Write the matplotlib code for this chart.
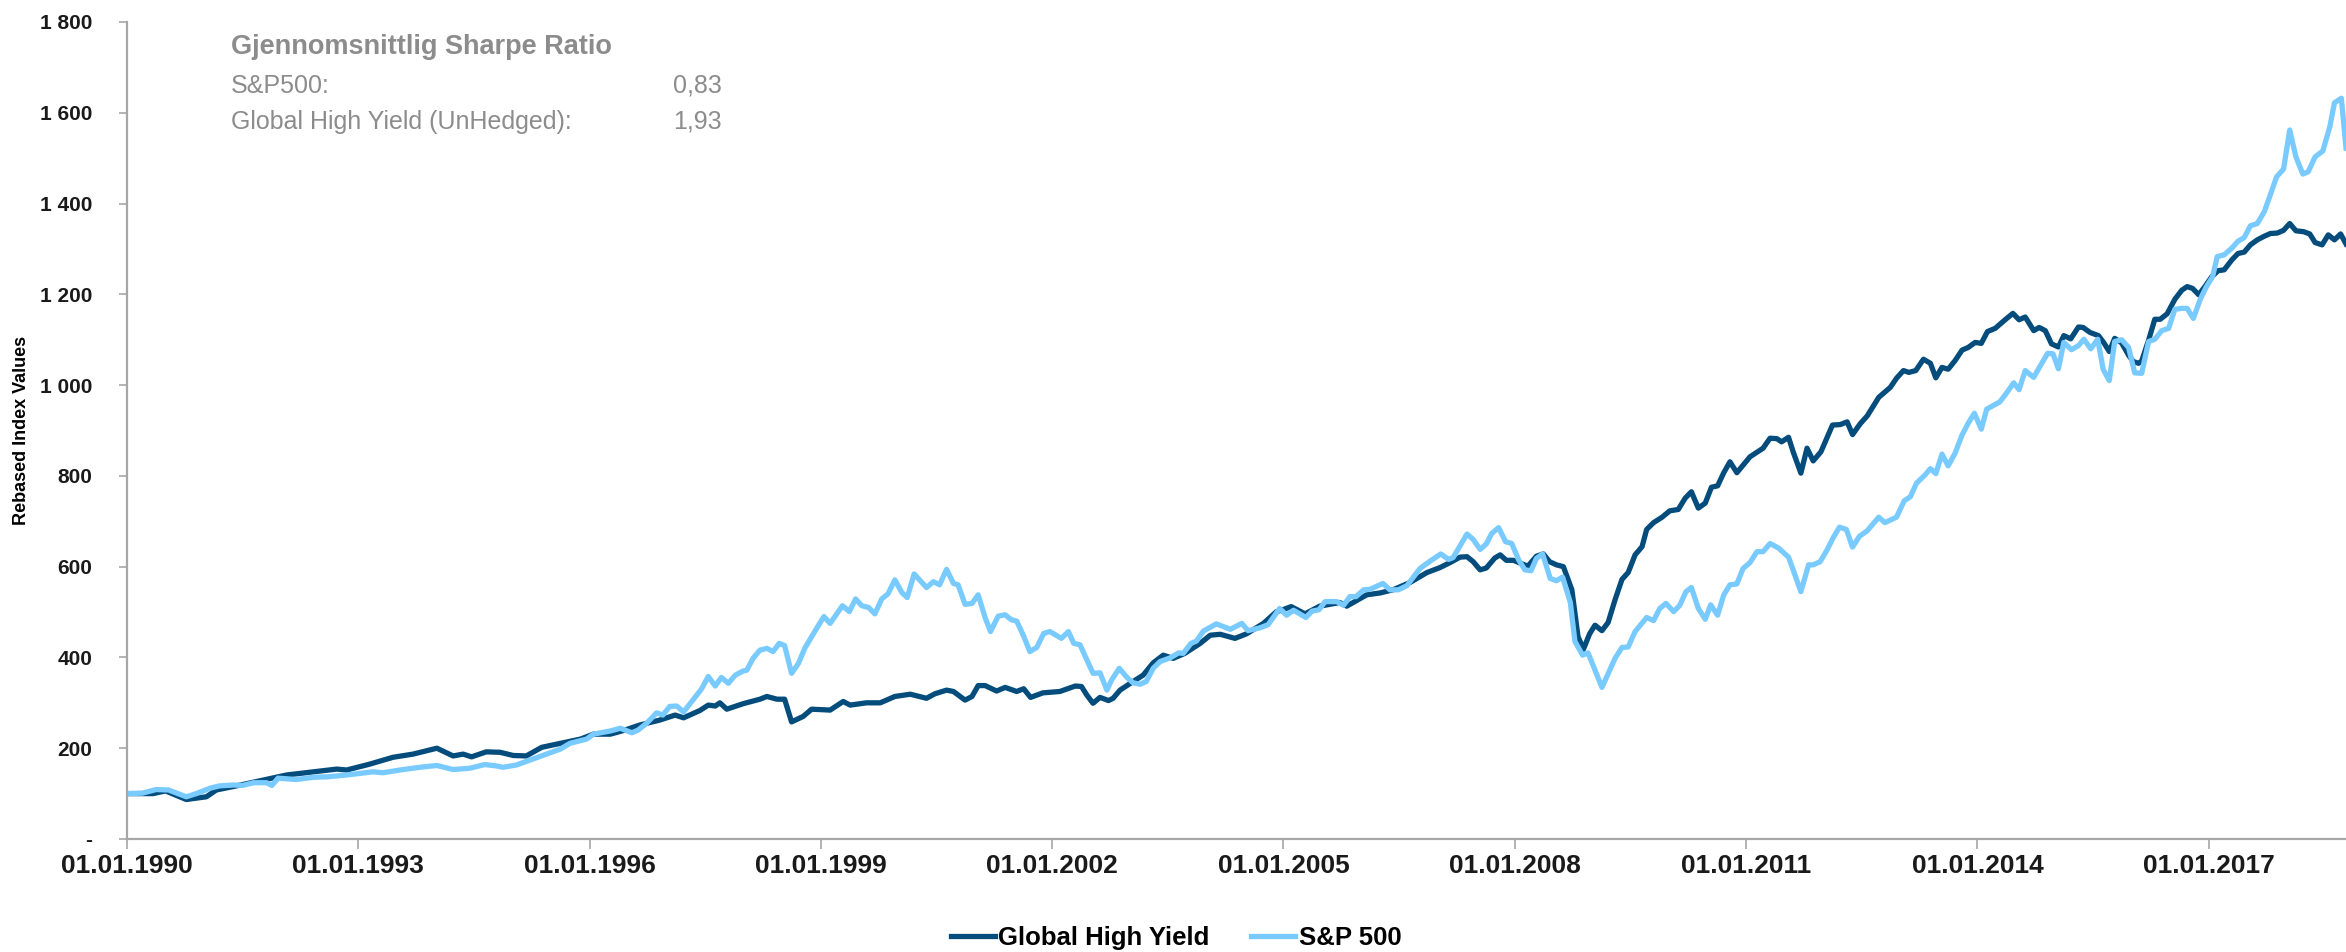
import matplotlib
matplotlib.use("Agg")
import matplotlib.pyplot as plt
from matplotlib.ticker import FuncFormatter

# Global High Yield (decimal year, rebased value)
ghy_years = [1990.00, 1990.34, 1990.50, 1990.77, 1991.03, 1991.16, 1991.42, 1991.77, 1992.07, 1992.42,
             1992.72, 1992.85, 1993.15, 1993.45, 1993.71, 1994.02, 1994.23, 1994.36, 1994.47, 1994.66,
             1994.84, 1995.01, 1995.18, 1995.38, 1995.66, 1995.88, 1996.05, 1996.27, 1996.44, 1996.65,
             1996.91, 1997.11, 1997.22, 1997.43, 1997.54, 1997.63, 1997.69, 1997.78, 1997.99, 1998.21,
             1998.30, 1998.43, 1998.53, 1998.62, 1998.77, 1998.88, 1999.12, 1999.29, 1999.38, 1999.59,
             1999.77, 1999.96, 2000.16, 2000.37, 2000.48, 2000.63, 2000.72, 2000.87, 2000.96, 2001.04,
             2001.13, 2001.28, 2001.39, 2001.54, 2001.63, 2001.72, 2001.88, 2002.10, 2002.30, 2002.38,
             2002.45, 2002.53, 2002.62, 2002.73, 2002.79, 2002.88, 2003.05, 2003.18, 2003.31, 2003.44,
             2003.57, 2003.72, 2003.92, 2004.05, 2004.18, 2004.37, 2004.52, 2004.74, 2004.91, 2004.99,
             2005.10, 2005.28, 2005.47, 2005.73, 2005.82, 2006.08, 2006.25, 2006.42, 2006.64, 2006.86,
             2007.03, 2007.16, 2007.29, 2007.38, 2007.46, 2007.55, 2007.63, 2007.74, 2007.81, 2007.89,
             2007.98, 2008.17, 2008.28, 2008.37, 2008.45, 2008.54, 2008.63, 2008.74, 2008.82, 2008.89,
             2008.97, 2009.04, 2009.13, 2009.21, 2009.30, 2009.39, 2009.47, 2009.56, 2009.65, 2009.71,
             2009.80, 2009.91, 2010.01, 2010.12, 2010.21, 2010.29, 2010.38, 2010.47, 2010.55, 2010.63,
             2010.71, 2010.79, 2010.88, 2011.05, 2011.22, 2011.31, 2011.40, 2011.46, 2011.55, 2011.61,
             2011.71, 2011.79, 2011.87, 2011.97, 2012.12, 2012.22, 2012.31, 2012.38, 2012.48, 2012.57,
             2012.72, 2012.87, 2012.95, 2013.04, 2013.11, 2013.20, 2013.30, 2013.39, 2013.46, 2013.54,
             2013.62, 2013.71, 2013.80, 2013.88, 2013.97, 2014.05, 2014.13, 2014.23, 2014.38, 2014.46,
             2014.54, 2014.62, 2014.73, 2014.80, 2014.88, 2014.96, 2015.05, 2015.12, 2015.21, 2015.31,
             2015.37, 2015.46, 2015.57, 2015.64, 2015.71, 2015.78, 2015.87, 2015.96, 2016.02, 2016.09,
             2016.13, 2016.22, 2016.30, 2016.37, 2016.46, 2016.56, 2016.65, 2016.72, 2016.79, 2016.87,
             2016.95, 2017.04, 2017.12, 2017.20, 2017.30, 2017.38, 2017.46, 2017.54, 2017.63, 2017.72,
             2017.80, 2017.89, 2017.97, 2018.05, 2018.13, 2018.23, 2018.31, 2018.38, 2018.47, 2018.55,
             2018.63, 2018.71, 2018.78]
ghy_values = [100, 100, 106, 87, 93, 108, 117, 130, 141, 148,
              154, 152, 165, 180, 187, 200, 183, 187, 181, 192,
              191, 184, 183, 202, 212, 220, 231, 231, 239, 251,
              262, 273, 267, 283, 295, 293, 300, 286, 298, 308,
              314, 308, 308, 258, 270, 286, 284, 303, 295, 300,
              300, 314, 319, 310, 320, 328, 325, 306, 314, 338,
              338, 326, 334, 325, 331, 312, 322, 325, 337, 336,
              317, 299, 312, 305, 310, 328, 347, 361, 388, 405,
              398, 409, 431, 449, 451, 442, 452, 475, 501, 505,
              512, 496, 513, 521, 513, 538, 542, 549, 565, 587,
              598, 609, 621, 622, 611, 593, 597, 619, 626, 614,
              614, 601, 623, 628, 611, 604, 600, 549, 446, 418,
              452, 471, 459, 477, 527, 572, 587, 626, 644, 682,
              697, 709, 723, 726, 751, 765, 729, 740, 775, 778,
              807, 831, 807, 842, 861, 883, 882, 875, 885, 853,
              806, 861, 833, 853, 912, 913, 919, 891, 915, 932,
              973, 995, 1015, 1032, 1028, 1032, 1057, 1048, 1016, 1039,
              1035, 1054, 1077, 1083, 1094, 1092, 1118, 1125, 1147, 1158,
              1144, 1150, 1120, 1127, 1120, 1091, 1084, 1109, 1102, 1128,
              1127, 1116, 1109, 1093, 1074, 1103, 1093, 1066, 1052, 1048,
              1053, 1099, 1145, 1145, 1157, 1189, 1209, 1217, 1213, 1199,
              1217, 1239, 1252, 1254, 1276, 1290, 1293, 1309, 1320, 1328,
              1334, 1335, 1341, 1356, 1340, 1338, 1333, 1314, 1309, 1331,
              1320, 1333, 1311]

# S&P 500 (decimal year, rebased value)
spx_years = [1990.00, 1990.20, 1990.38, 1990.54, 1990.77, 1990.90, 1991.08, 1991.20, 1991.38, 1991.50,
             1991.64, 1991.81, 1991.88, 1991.96, 1992.20, 1992.42, 1992.60, 1992.85, 1993.19, 1993.32,
             1993.58, 1993.80, 1994.02, 1994.23, 1994.45, 1994.64, 1994.79, 1994.88, 1995.05, 1995.23,
             1995.44, 1995.62, 1995.75, 1995.96, 1996.05, 1996.27, 1996.40, 1996.55, 1996.63, 1996.74,
             1996.87, 1996.95, 1997.04, 1997.13, 1997.22, 1997.39, 1997.45, 1997.54, 1997.63, 1997.71,
             1997.80, 1997.89, 1997.99, 1998.04, 1998.12, 1998.21, 1998.30, 1998.38, 1998.46, 1998.53,
             1998.62, 1998.71, 1998.79, 1998.97, 1999.04, 1999.12, 1999.28, 1999.37, 1999.45, 1999.53,
             1999.62, 1999.70, 1999.79, 1999.87, 1999.96, 2000.05, 2000.12, 2000.21, 2000.29, 2000.37,
             2000.46, 2000.54, 2000.63, 2000.72, 2000.78, 2000.87, 2000.96, 2001.04, 2001.13, 2001.20,
             2001.30, 2001.39, 2001.47, 2001.54, 2001.63, 2001.71, 2001.80, 2001.89, 2001.97, 2002.12,
             2002.21, 2002.28, 2002.36, 2002.53, 2002.62, 2002.71, 2002.77, 2002.87, 2002.97, 2003.05,
             2003.14, 2003.22, 2003.31, 2003.40, 2003.53, 2003.64, 2003.70, 2003.80, 2003.87, 2003.96,
             2004.13, 2004.31, 2004.46, 2004.54, 2004.69, 2004.80, 2004.95, 2005.04, 2005.13, 2005.29,
             2005.37, 2005.46, 2005.54, 2005.69, 2005.78, 2005.86, 2005.94, 2006.04, 2006.12, 2006.29,
             2006.38, 2006.49, 2006.60, 2006.77, 2006.90, 2007.04, 2007.14, 2007.20, 2007.38, 2007.46,
             2007.55, 2007.63, 2007.70, 2007.79, 2007.88, 2007.96, 2008.05, 2008.13, 2008.21, 2008.28,
             2008.36, 2008.46, 2008.54, 2008.62, 2008.72, 2008.78, 2008.88, 2008.95, 2009.04, 2009.13,
             2009.21, 2009.30, 2009.39, 2009.47, 2009.56, 2009.71, 2009.80, 2009.88, 2009.96, 2010.06,
             2010.14, 2010.22, 2010.29, 2010.38, 2010.47, 2010.54, 2010.63, 2010.71, 2010.79, 2010.88,
             2010.96, 2011.05, 2011.14, 2011.22, 2011.31, 2011.42, 2011.55, 2011.61, 2011.71, 2011.81,
             2011.87, 2011.96, 2012.05, 2012.13, 2012.21, 2012.30, 2012.38, 2012.47, 2012.57, 2012.72,
             2012.80, 2012.95, 2013.05, 2013.13, 2013.21, 2013.32, 2013.39, 2013.46, 2013.54, 2013.62,
             2013.71, 2013.80, 2013.88, 2013.96, 2014.05, 2014.12, 2014.29, 2014.38, 2014.47, 2014.54,
             2014.62, 2014.73, 2014.81, 2014.91, 2014.98, 2015.05, 2015.12, 2015.22, 2015.31, 2015.38,
             2015.47, 2015.56, 2015.63, 2015.71, 2015.78, 2015.87, 2015.96, 2016.04, 2016.13, 2016.22,
             2016.30, 2016.39, 2016.48, 2016.56, 2016.65, 2016.72, 2016.80, 2016.89, 2016.97, 2017.05,
             2017.11, 2017.20, 2017.30, 2017.38, 2017.46, 2017.54, 2017.63, 2017.72, 2017.79, 2017.88,
             2017.97, 2018.05, 2018.13, 2018.22, 2018.29, 2018.38, 2018.48, 2018.57, 2018.63, 2018.72,
             2018.78]
spx_values = [100, 101, 109, 108, 93, 100, 112, 117, 119, 118,
              124, 124, 118, 134, 131, 136, 137, 141, 148, 146,
              153, 158, 162, 153, 156, 164, 161, 158, 163, 174,
              187, 198, 211, 220, 231, 238, 244, 234, 240, 255,
              278, 273, 292, 293, 280, 317, 330, 358, 337, 356,
              343, 361, 370, 372, 398, 416, 420, 413, 431, 426,
              365, 387, 420, 471, 490, 475, 514, 501, 529, 514,
              510, 496, 529, 540, 571, 543, 532, 584, 569, 554,
              567, 560, 594, 563, 560, 517, 519, 538, 488, 457,
              491, 494, 483, 480, 447, 413, 422, 453, 457, 442,
              457, 431, 428, 365, 366, 328, 350, 376, 356, 344,
              341, 347, 376, 391, 399, 410, 409, 431, 436, 458,
              474, 462, 475, 459, 465, 472, 508, 493, 504, 488,
              502, 505, 523, 523, 515, 534, 534, 549, 550, 563,
              549, 549, 558, 596, 612, 628, 616, 620, 672, 660,
              638, 650, 673, 686, 655, 651, 615, 593, 591, 618,
              628, 574, 569, 577, 521, 435, 405, 410, 372, 334,
              364, 398, 422, 423, 457, 488, 481, 508, 519, 501,
              515, 545, 554, 508, 484, 516, 493, 538, 560, 562,
              596, 609, 633, 633, 651, 641, 621, 593, 545, 604,
              604, 611, 637, 664, 687, 682, 643, 667, 679, 709,
              697, 709, 745, 754, 784, 802, 816, 805, 848, 822,
              850, 890, 916, 938, 903, 947, 963, 983, 1005, 990,
              1032, 1017, 1041, 1070, 1069, 1036, 1094, 1078, 1087, 1101,
              1080, 1101, 1035, 1010, 1096, 1100, 1083, 1027, 1026, 1096,
              1101, 1120, 1125, 1167, 1169, 1169, 1147, 1189, 1217, 1239,
              1283, 1287, 1302, 1317, 1325, 1351, 1356, 1382, 1415, 1459,
              1476, 1562, 1503, 1465, 1470, 1503, 1516, 1569, 1622, 1632,
              1522]

tick_years = [1990, 1993, 1996, 1999, 2002, 2005, 2008, 2011, 2014, 2017]
y_ticks = [0, 200, 400, 600, 800, 1000, 1200, 1400, 1600, 1800]

dark = '#044c7c'
light = '#79cbff'
axis_grey = '#a6a6a6'
text_grey = '#8c8c8c'
font = ['Liberation Sans', 'DejaVu Sans']

fig = plt.figure(figsize=(23.46, 9.52), dpi=100)
ax = fig.add_axes([0.0541, 0.1187, 0.9459, 0.8582])

ax.plot(ghy_years, ghy_values, color=dark, linewidth=3.8, label='Global High Yield', solid_joinstyle='round')
ax.plot(spx_years, spx_values, color=light, linewidth=3.8, label='S&P 500', solid_joinstyle='round')

ax.set_xlim(1990, 2018.78)
ax.set_ylim(0, 1800)
ax.set_xticks(tick_years)
ax.set_xticklabels(['01.01.%d' % y for y in tick_years])
ax.set_yticks(y_ticks)
ax.yaxis.set_major_formatter(FuncFormatter(lambda v, p: '-' if v == 0 else '{:,.0f}'.format(v).replace(',', ' ')))

for s in ['top', 'right']:
    ax.spines[s].set_visible(False)
for s in ['left', 'bottom']:
    ax.spines[s].set_color(axis_grey)
    ax.spines[s].set_linewidth(1.6)

ax.tick_params(axis='x', direction='out', length=7, width=1.2, color=axis_grey, pad=4)
ax.tick_params(axis='y', direction='out', length=6, width=1.2, color=axis_grey, pad=19)
for lab in ax.get_xticklabels():
    lab.set_fontfamily(font)
    lab.set_fontweight('bold')
    lab.set_fontsize(19)
    lab.set_color('#1a1a1a')
for lab in ax.get_yticklabels():
    lab.set_fontfamily(font)
    lab.set_fontweight('bold')
    lab.set_fontsize(15)
    lab.set_color('#1a1a1a')

ax.set_ylabel('Rebased Index Values', fontsize=13, fontweight='bold', family=font)
ax.yaxis.set_label_coords(-0.0435, 0.5)

# Sharpe ratio box
ax.text(0.047, 0.969, 'Gjennomsnittlig Sharpe Ratio', transform=ax.transAxes, fontsize=19.5,
        fontweight='bold', color=text_grey, family=font, va='center')
ax.text(0.047, 0.922, 'S&P500:', transform=ax.transAxes, fontsize=18, color=text_grey, family=font, va='center')
ax.text(0.268, 0.922, '0,83', transform=ax.transAxes, fontsize=18, color=text_grey, family=font, va='center', ha='right')
ax.text(0.047, 0.878, 'Global High Yield (UnHedged):', transform=ax.transAxes, fontsize=18, color=text_grey, family=font, va='center')
ax.text(0.268, 0.878, '1,93', transform=ax.transAxes, fontsize=18, color=text_grey, family=font, va='center', ha='right')

fig.legend(loc='center', bbox_to_anchor=(0.5013, 0.0145), ncol=2, frameon=False, handlelength=1.7,
           handletextpad=0.15, columnspacing=1.6, prop={'family': font, 'weight': 'bold', 'size': 18.5})

fig.savefig('out.png', dpi=100)
